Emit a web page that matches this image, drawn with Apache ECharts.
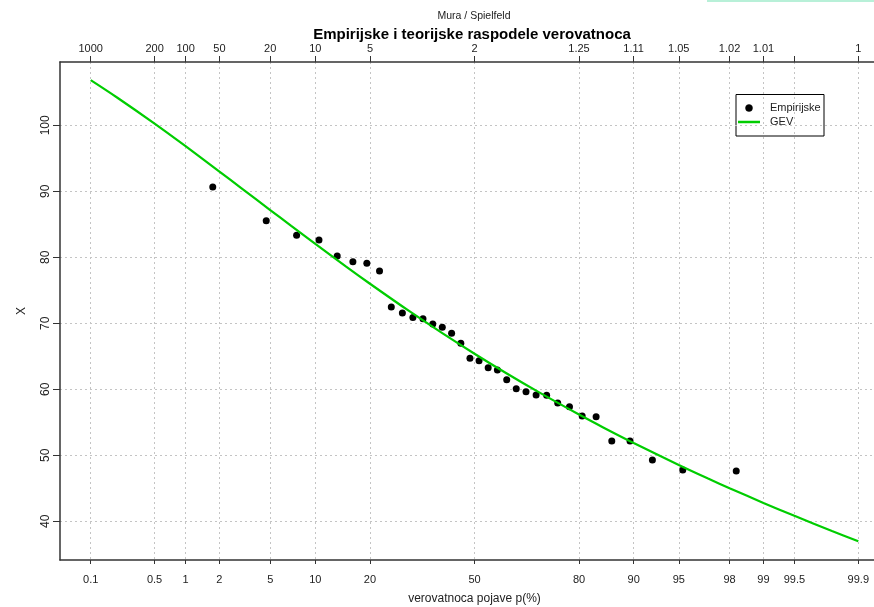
<!DOCTYPE html>
<html>
<head>
<meta charset="utf-8">
<script src="https://cdn.jsdelivr.net/npm/echarts@6/dist/echarts.min.js"></script>
<style>
html,body{margin:0;padding:0;background:#fff;overflow:hidden;width:874px;height:607px;}
#chart{width:892px;height:607px;}
</style>
</head>
<body>
<div id="chart"></div>
<script>
// ---- data ----
const subtitleText = 'Mura / Spielfeld';
const titleText = 'Empirijske i teorijske raspodele verovatnoca';
const xAxisName = 'verovatnoca pojave p(%)';
const yAxisName = 'X';
const legendNames = ['Empirijske', 'GEV'];

const pTicks = [0.1, 0.5, 1, 2, 5, 10, 20, 50, 80, 90, 95, 98, 99, 99.5, 99.9];
const pLabels = ['0.1', '0.5', '1', '2', '5', '10', '20', '50', '80', '90', '95', '98', '99', '99.5', '99.9'];
const returnLabels = ['1000', '200', '100', '50', '20', '10', '5', '2', '1.25', '1.11', '1.05', '1.02', '1.01', '', '1'];
const yTicks = [40, 50, 60, 70, 80, 90, 100];

// empirical points: exceedance probability (%) and value
const empP = [1.754, 4.678, 7.602, 10.526, 13.450, 16.374, 19.298, 22.222, 25.146, 28.070,
              30.994, 33.918, 36.842, 39.766, 42.690, 45.614, 48.538, 51.462, 54.386, 57.310,
              60.234, 63.158, 66.082, 69.006, 71.930, 74.854, 77.778, 80.702, 83.626, 86.550,
              89.474, 92.398, 95.322, 98.246];
const empX = [90.65, 85.55, 83.33, 82.62, 80.20, 79.33, 79.09, 77.92, 72.47, 71.56,
              70.90, 70.70, 69.90, 69.39, 68.48, 66.97, 64.70, 64.33, 63.27, 62.92,
              61.45, 60.09, 59.64, 59.14, 59.09, 57.92, 57.36, 55.95, 55.85, 52.17,
              52.17, 49.30, 47.77, 47.62];

// GEV curve
const gevP = [0.1, 0.2, 0.5, 1, 2, 3, 5, 7, 10, 15, 20, 30, 40, 50, 60, 70, 80, 85, 90, 95, 97, 98, 99, 99.5, 99.8, 99.9];
const gevX = [106.85, 104.22, 100.26, 96.84, 93.00, 90.54, 87.17, 84.76, 82.03, 78.63, 76.00, 71.84, 68.44, 65.40,
              62.48, 59.50, 56.18, 54.23, 51.87, 48.54, 46.48, 45.02, 42.79, 40.83, 38.54, 36.99];

// ---- normal probability scale ----
function qnorm(p) {
  const a = [-3.969683028665376e+01, 2.209460984245205e+02, -2.759285104469687e+02, 1.383577518672690e+02, -3.066479806614716e+01, 2.506628277459239e+00];
  const b = [-5.447609879822406e+01, 1.615858368580409e+02, -1.556989798598866e+02, 6.680131188771972e+01, -1.328068155288572e+01];
  const c = [-7.784894002430293e-03, -3.223964580411365e-01, -2.400758277161838e+00, -2.549732539343734e+00, 4.374664141464968e+00, 2.938163982698783e+00];
  const d = [7.784695709041462e-03, 3.224671290700398e-01, 2.445134137142996e+00, 3.754408661907416e+00];
  const pl = 0.02425, ph = 1 - pl;
  let q, r;
  if (p < pl) {
    q = Math.sqrt(-2 * Math.log(p));
    return (((((c[0]*q+c[1])*q+c[2])*q+c[3])*q+c[4])*q+c[5]) / ((((d[0]*q+d[1])*q+d[2])*q+d[3])*q+1);
  }
  if (p <= ph) {
    q = p - 0.5; r = q*q;
    return (((((a[0]*r+a[1])*r+a[2])*r+a[3])*r+a[4])*r+a[5])*q / (((((b[0]*r+b[1])*r+b[2])*r+b[3])*r+b[4])*r+1);
  }
  q = Math.sqrt(-2 * Math.log(1 - p));
  return -(((((c[0]*q+c[1])*q+c[2])*q+c[3])*q+c[4])*q+c[5]) / ((((d[0]*q+d[1])*q+d[2])*q+d[3])*q+1);
}
const zOf = p => qnorm(p / 100);

const tickZ = pTicks.map(zOf);
const keyOf = v => Number(v).toFixed(5);
const bottomMap = {}, topMap = {};
tickZ.forEach((z, i) => { bottomMap[keyOf(z)] = pLabels[i]; topMap[keyOf(z)] = returnLabels[i]; });

const zEdge = zOf(99.9);
const xMin = -zEdge - 0.04 * 2 * zEdge;
const xMax = zEdge + 0.04 * 2 * zEdge;

const empData = empP.map((p, i) => [zOf(p), empX[i]]);
const gevData = gevP.map((p, i) => [zOf(p), gevX[i]]);

const axisCol = '#333';
const txtCol = '#222';
const green = '#00cd00';
const font = 'Liberation Sans, Arial, sans-serif';

const chart = echarts.init(document.getElementById('chart'), null, {renderer: 'canvas'});
chart.setOption({
  backgroundColor: '#fff',
  animation: false,
  textStyle: {fontFamily: font},
  title: [
    {text: subtitleText, left: 469, top: 6, textAlign: 'center',
     textStyle: {fontSize: 10.5, fontWeight: 'normal', color: txtCol, fontFamily: font}},
    {text: titleText, left: 467, top: 22, textAlign: 'center',
     textStyle: {fontSize: 15, fontWeight: 'bold', color: '#000', fontFamily: font}}
  ],
  graphic: [
    {type: 'rect', shape: {x: 707, y: 0, width: 167, height: 2}, style: {fill: '#b8f0d8'}, silent: true},
    {type: 'group', z: 100, children: [
      {type: 'rect', shape: {x: 736, y: 94.5, width: 88, height: 41.5},
       style: {fill: '#fff', stroke: '#000', lineWidth: 1}},
      {type: 'circle', shape: {cx: 749, cy: 108, r: 3.5}, style: {fill: '#000', stroke: '#000', lineWidth: 0.5}},
      {type: 'line', shape: {x1: 738, y1: 122, x2: 760, y2: 122}, style: {stroke: green, lineWidth: 2.5}},
      {type: 'text', x: 770, y: 108, style: {text: legendNames[0], fontSize: 11, fill: txtCol, fontFamily: font, verticalAlign: 'middle'}},
      {type: 'text', x: 770, y: 122, style: {text: legendNames[1], fontSize: 11, fill: txtCol, fontFamily: font, verticalAlign: 'middle'}}
    ]}
  ],
  grid: {left: 60, top: 62, width: 829, height: 498, containLabel: false, outerBoundsMode: 'none'},
  xAxis: [
    {
      type: 'value', position: 'bottom', min: xMin, max: xMax,
      name: xAxisName, nameLocation: 'middle', nameGap: 33,
      nameTextStyle: {fontSize: 12, color: txtCol, fontFamily: font},
      axisLine: {show: true, onZero: false, lineStyle: {color: axisCol, width: 1.5}},
      axisTick: {show: true, inside: false, length: 4, customValues: tickZ, lineStyle: {color: axisCol, width: 1}},
      axisLabel: {show: true, customValues: tickZ, margin: 14, fontSize: 11, color: txtCol, fontFamily: font,
                  formatter: v => bottomMap[keyOf(v)] || ''},
      splitLine: {show: true, lineStyle: {color: '#c4c4c4', width: 1, type: [2, 3]}}
    },
    {
      type: 'value', position: 'top', min: xMin, max: xMax,
      axisLine: {show: true, onZero: false, lineStyle: {color: axisCol, width: 1.5}},
      axisTick: {show: true, inside: false, length: 6, customValues: tickZ, lineStyle: {color: axisCol, width: 1}},
      axisLabel: {show: true, customValues: tickZ, margin: 8, fontSize: 11, color: txtCol, fontFamily: font,
                  formatter: v => topMap[keyOf(v)] || ''},
      splitLine: {show: false}
    }
  ],
  yAxis: [
    {
      type: 'value', position: 'left', min: 34.14, max: 109.6,
      name: yAxisName, nameLocation: 'middle', nameGap: 32, nameRotate: 90,
      nameTextStyle: {fontSize: 12, color: txtCol, fontFamily: font},
      axisLine: {show: true, onZero: false, lineStyle: {color: axisCol, width: 1.5}},
      axisTick: {show: true, inside: false, length: 7, customValues: yTicks, lineStyle: {color: axisCol, width: 1}},
      axisLabel: {show: true, customValues: yTicks, rotate: 90, margin: 8, fontSize: 12, color: txtCol, fontFamily: font},
      splitLine: {show: true, lineStyle: {color: '#c4c4c4', width: 1, type: [2, 3]}}
    }
  ],
  series: [
    {
      name: legendNames[0], type: 'scatter', xAxisIndex: 0, yAxisIndex: 0,
      symbol: 'circle', symbolSize: 7,
      itemStyle: {color: '#000', opacity: 1},
      data: empData, z: 3
    },
    {
      name: legendNames[1], type: 'line', xAxisIndex: 0, yAxisIndex: 0,
      showSymbol: false, symbol: 'none', smooth: 0.3,
      lineStyle: {color: green, width: 2.2},
      itemStyle: {color: green},
      data: gevData, z: 4
    }
  ]
});
</script>
</body>
</html>
